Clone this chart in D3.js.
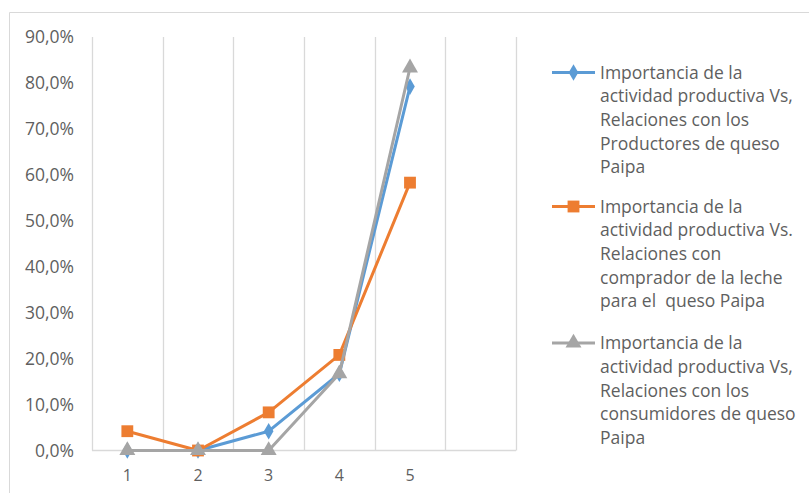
<!DOCTYPE html>
<meta charset="utf-8">
<head>
    <title>Importancia de la actividad productiva</title>
    <style>
        body { margin: 0; background: #fff; }
        text { font-family: "Open Sans", Lato, sans-serif; fill: #5f5f5f; }
    </style>
</head>
<body>
<script src="https://cdn.jsdelivr.net/npm/d3@7"></script>
<script>
    // categories (6th slot is empty in the original chart)
    var categories = ["1", "2", "3", "4", "5", ""];

    // series values (share of answers)
    var productores = [0, 0, 0.042, 0.167, 0.792];
    var comprador = [0.042, 0, 0.083, 0.208, 0.583];
    var consumidores = [0, 0, 0, 0.167, 0.833];

    var yTicks = [0, 0.1, 0.2, 0.3, 0.4, 0.5, 0.6, 0.7, 0.8, 0.9];

    var legendLabels = [
        ["Importancia de la", "actividad productiva Vs,", "Relaciones con los", "Productores de queso", "Paipa"],
        ["Importancia de la", "actividad productiva Vs.", "Relaciones con", "comprador de la leche", "para el  queso Paipa"],
        ["Importancia de la", "actividad productiva Vs,", "Relaciones con los", "consumidores de queso", "Paipa"]
    ];

    var series = [
        { values: productores, color: "#5B9BD5", symbol: d3.symbolDiamond, size: 80 },
        { values: comprador, color: "#ED7D31", symbol: d3.symbolSquare, size: 140 },
        { values: consumidores, color: "#A5A5A5", symbol: d3.symbolTriangle, size: 110 }
    ];

    var width = 809, height = 493;

    var svg = d3.select("body").append("svg")
        .attr("width", width)
        .attr("height", height);

    // chart frame (only top and left edges show in the picture)
    svg.append("path")
        .attr("d", "M9.5,493V12.5H809")
        .attr("fill", "none")
        .attr("stroke", "#d9d9d9")
        .attr("stroke-width", 1);

    var x = d3.scaleBand().domain(categories).range([92, 516]).paddingInner(0).paddingOuter(0);
    var y = d3.scaleLinear().domain([0, 0.9]).range([450.5, 37]);

    var locale = d3.formatLocale({ decimal: ",", thousands: ".", grouping: [3], currency: ["", "€"] });
    var pct = locale.format(".1%");

    // vertical gridlines between categories
    var bounds = categories.map(function (d) { return x(d); }).concat([x.range()[1]]);
    svg.append("g").selectAll("line")
        .data(bounds)
        .enter().append("line")
        .attr("x1", function (d) { return Math.round(d) + 0.5; })
        .attr("x2", function (d) { return Math.round(d) + 0.5; })
        .attr("y1", y(0.9))
        .attr("y2", y(0))
        .attr("stroke", "#d9d9d9")
        .attr("stroke-width", 1.3);

    // bottom axis line
    svg.append("line")
        .attr("x1", x.range()[0])
        .attr("x2", x.range()[1])
        .attr("y1", y(0))
        .attr("y2", y(0))
        .attr("stroke", "#d9d9d9")
        .attr("stroke-width", 1.3);

    // y tick labels
    svg.append("g").selectAll("text")
        .data(yTicks)
        .enter().append("text")
        .attr("x", 74)
        .attr("y", function (d) { return y(d); })
        .attr("dy", "0.35em")
        .attr("text-anchor", "end")
        .style("font-size", "17.5px")
        .text(function (d) { return pct(d); });

    // x category labels
    svg.append("g").selectAll("text")
        .data(categories)
        .enter().append("text")
        .attr("x", function (d) { return x(d) + x.bandwidth() / 2; })
        .attr("y", 475)
        .attr("dy", "0.35em")
        .attr("text-anchor", "middle")
        .style("font-size", "16px")
        .text(function (d) { return d; });

    var line = d3.line()
        .x(function (d, i) { return x(categories[i]) + x.bandwidth() / 2; })
        .y(function (d) { return y(d); });

    // lines then markers, series order
    series.forEach(function (s) {
        var g = svg.append("g");
        g.append("path")
            .attr("d", line(s.values))
            .attr("fill", "none")
            .attr("stroke", s.color)
            .attr("stroke-width", 3)
            .attr("stroke-linejoin", "round");
        g.selectAll("path.m")
            .data(s.values)
            .enter().append("path")
            .attr("class", "m")
            .attr("d", d3.symbol().type(s.symbol).size(s.size))
            .attr("transform", function (d, i) {
                return "translate(" + (x(categories[i]) + x.bandwidth() / 2) + "," + y(d) + ")";
            })
            .attr("fill", s.color);
    });

    // legend
    var legendTop = [72.5, 206.5, 343];
    var lineStep = 23.7;
    series.forEach(function (s, k) {
        var lg = svg.append("g").attr("transform", "translate(0," + legendTop[k] + ")");
        lg.append("line")
            .attr("x1", 552).attr("x2", 595)
            .attr("y1", 0).attr("y2", 0)
            .attr("stroke", s.color)
            .attr("stroke-width", 3);
        lg.append("path")
            .attr("d", d3.symbol().type(s.symbol).size(s.size))
            .attr("transform", "translate(573.5,0)")
            .attr("fill", s.color);
        lg.selectAll("text")
            .data(legendLabels[k])
            .enter().append("text")
            .attr("x", 600)
            .attr("y", function (d, i) { return i * lineStep; })
            .attr("dy", "0.35em")
            .style("font-size", "17.5px")
            .style("white-space", "pre")
            .text(function (d) { return d; });
    });
</script>
</body>
</html>
